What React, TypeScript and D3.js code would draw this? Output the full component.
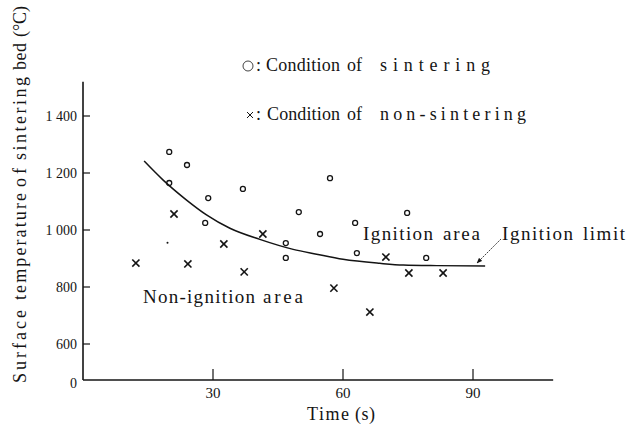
import React from "react";
import * as d3 from "d3";

// Data
const sinteringT = [19.9, 24.0, 19.9, 28.9, 36.9, 57.0, 49.8, 28.2, 54.7, 46.8, 46.8, 62.8, 63.2, 74.8, 79.2];
const sinteringV = [1274, 1228, 1165, 1112, 1144, 1182, 1063, 1025, 986, 954, 902, 1025, 919, 1060, 902];
const nonSinteringT = [12.2, 21.0, 24.2, 32.5, 37.2, 41.5, 57.9, 66.2, 69.9, 75.2, 83.1];
const nonSinteringV = [884, 1056, 881, 951, 853, 986, 796, 712, 905, 849, 849];
const strayT = [19.5];
const strayV = [955];
const limitT = [14.1, 18.5, 23.9, 28.5, 33.9, 40.8, 48.5, 53.9, 60.0, 68.5, 73.9, 81.6, 92.8];
const limitV = [1242, 1175, 1105, 1053, 1006, 967, 932, 915, 897, 883, 877, 875, 874];
const xTicks = [30, 60, 90];
const yTicks = [600, 800, 1000, 1200, 1400];
const yTickLabels = ["600", "800", "1 000", "1 200", "1 400"];
const xTitleWords = ["Time", "(s)"];
const yTitleWords = ["Surface", "temperature", "of", "sintering", "bed", "(°C)"];
const legendWords1 = ["Condition", "of", "sintering"];
const legendWords2 = ["Condition", "of", "non-sintering"];
const nonIgnitionWords = ["Non-ignition", "area"];
const ignitionWords = ["Ignition", "area"];
const limitWords = ["Ignition", "limit"];

const FONT = '"Liberation Serif", "Times New Roman", "DejaVu Serif", serif';
const INK = "#141414";

// word extents in pixels (layout)
const xTitleSpans: [number, number][] = [[307, 349], [355, 375]];
const yTitleSpans: [number, number][] = [[383, 310], [300, 193], [187, 168], [160, 77], [70, 43], [37, 6]];
const legend1Spans: [number, number][] = [[266, 340], [347, 362], [380, 490]];
const legend2Spans: [number, number][] = [[267, 340], [347, 362], [380, 526]];
const nonIgnitionSpans: [number, number][] = [[143, 255], [263, 303]];
const ignitionSpans: [number, number][] = [[363, 433], [443, 480]];
const limitSpans: [number, number][] = [[502, 573], [583, 625]];

export default function App() {
  const W = 629, H = 434;
  const x = d3.scaleLinear().domain([0, 90]).range([83, 473]);
  const y = d3.scaleLinear().domain([600, 1400]).range([344, 116]);
  const baseY = 380;
  const x0 = x(0);
  const xEnd = x(108.5);
  const yTop = y(1520);

  const line = d3
    .line<number>()
    .x((_, i) => x(limitT[i]))
    .y((d) => y(d))
    .curve(d3.curveMonotoneX);

  const cross = (cx: number, cy: number, s: number, key: string, sw: number) => (
    <g key={key} stroke={INK} strokeWidth={sw}>
      <line x1={cx - s} y1={cy - s} x2={cx + s} y2={cy + s} />
      <line x1={cx - s} y1={cy + s} x2={cx + s} y2={cy - s} />
    </g>
  );

  const T = { fontFamily: FONT, fill: INK } as React.CSSProperties;

  const words = (ws: string[], spans: [number, number][], yy: number, fs: number, key: string) =>
    ws.map((w, i) => (
      <text
        key={key + i}
        x={spans[i][0]}
        y={yy}
        style={{ ...T, fontSize: fs }}
        textLength={spans[i][1] - spans[i][0]}
        lengthAdjust="spacing"
      >
        {w}
      </text>
    ));

  return (
    <svg width={W} height={H} style={{ display: "block", position: "absolute", left: 0, top: 0, background: "#fff" }}>
      <rect x={0} y={0} width={W} height={H} fill="#fff" />
      {/* axes */}
      <line x1={x0} y1={yTop} x2={x0} y2={baseY} stroke={INK} strokeWidth={1.6} />
      <line x1={x0} y1={baseY} x2={xEnd} y2={baseY} stroke={INK} strokeWidth={1.6} />
      {yTicks.map((t, i) => (
        <g key={"yt" + t}>
          <line x1={x0} x2={x0 + 7} y1={y(t)} y2={y(t)} stroke={INK} strokeWidth={1.2} />
          <text x={x0 - 6} y={y(t)} dy="0.35em" textAnchor="end" style={{ ...T, fontSize: 14 }}>
            {yTickLabels[i]}
          </text>
        </g>
      ))}
      <text x={x0 - 6} y={baseY + 3} dy="0.35em" textAnchor="end" style={{ ...T, fontSize: 14 }}>0</text>
      {xTicks.map((t) => (
        <g key={"xt" + t}>
          <line x1={x(t)} x2={x(t)} y1={baseY} y2={baseY - 11} stroke={INK} strokeWidth={1.2} />
          <text x={x(t)} y={baseY + 18} textAnchor="middle" style={{ ...T, fontSize: 15 }}>
            {t}
          </text>
        </g>
      ))}
      {words(xTitleWords, xTitleSpans, 420, 18, "xt")}
      <g transform="translate(26,0) rotate(-90)">
        {yTitleWords.map((w, i) => (
          <text
            key={"yw" + i}
            x={-yTitleSpans[i][0]}
            y={0}
            style={{ ...T, fontSize: 18 }}
            textLength={yTitleSpans[i][0] - yTitleSpans[i][1]}
            lengthAdjust="spacing"
          >
            {w}
          </text>
        ))}
      </g>

      {/* legend */}
      <circle cx={248} cy={66} r={5} fill="none" stroke={INK} strokeWidth={0.8} />
      <text x={256} y={71} style={{ ...T, fontSize: 18 }}>:</text>
      {words(legendWords1, legend1Spans, 71, 18, "l1")}
      {cross(250, 115, 3, "lgx", 1)}
      <text x={256} y={120} style={{ ...T, fontSize: 18 }}>:</text>
      {words(legendWords2, legend2Spans, 120, 18, "l2")}

      {/* ignition limit curve */}
      <path d={line(limitV) || ""} fill="none" stroke={INK} strokeWidth={1.5} />

      {/* points */}
      {sinteringV.map((v, i) => (
        <circle key={"s" + i} cx={x(sinteringT[i])} cy={y(v)} r={2.5} fill="none" stroke={INK} strokeWidth={1.3} />
      ))}
      {nonSinteringV.map((v, i) => cross(x(nonSinteringT[i]), y(v), 3.6, "n" + i, 1.6))}
      {strayV.map((v, i) => (
        <circle key={"d" + i} cx={x(strayT[i])} cy={y(v)} r={1} fill={INK} />
      ))}

      {/* annotations */}
      {words(nonIgnitionWords, nonIgnitionSpans, 303, 19, "ni")}
      {words(ignitionWords, ignitionSpans, 240, 19, "ia")}
      {words(limitWords, limitSpans, 240, 19, "il")}
      <defs>
        <marker id="ah" viewBox="0 0 10 10" refX={9} refY={5} markerWidth={7} markerHeight={7} orient="auto">
          <path d="M0,1 L10,5 L0,9 Z" fill={INK} />
        </marker>
      </defs>
      <line x1={501} y1={239} x2={477} y2={263} stroke={INK} strokeWidth={0.8} strokeDasharray="2 1" markerEnd="url(#ah)" />
    </svg>
  );
}
